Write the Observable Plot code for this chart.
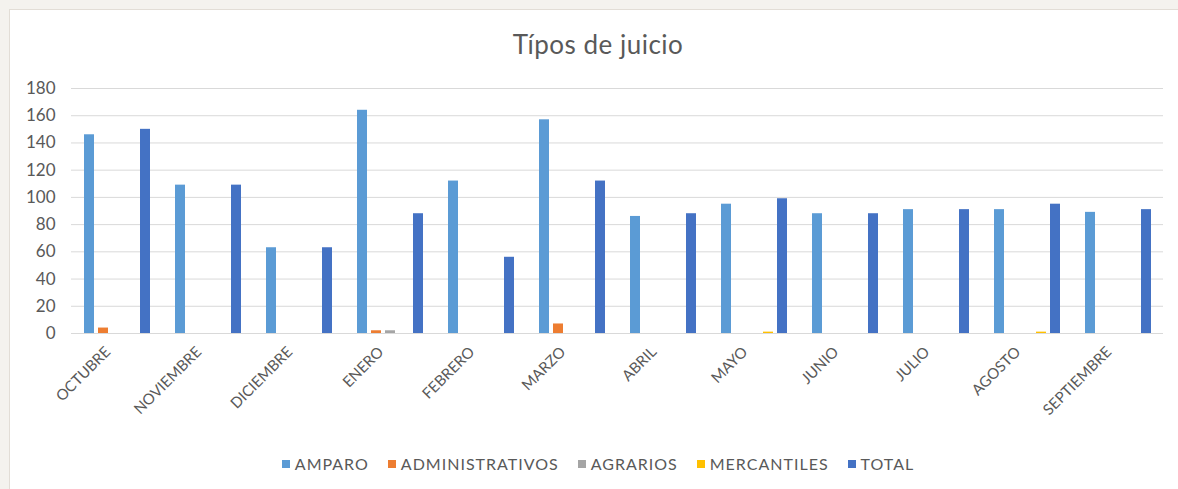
<!DOCTYPE html>
<html>
<head>
<meta charset="utf-8">
<script src="https://cdn.jsdelivr.net/npm/d3@7"></script>
<script src="https://cdn.jsdelivr.net/npm/@observablehq/plot@0.6"></script>
<style>
  html, body { margin: 0; padding: 0; background: #f4f2ee; }
  body { width: 1178px; height: 489px; overflow: hidden; position: relative; font-family: Lato, "Open Sans", sans-serif; }
  #card { position: absolute; left: 9px; top: 9px; width: 1168px; height: 479px; background: #fff; border-left: 1px solid #e2ddd6; border-top: 1px solid #e2ddd6; }
  #title { height: 66px; box-sizing: border-box; padding-top: 18px; padding-left: 8px; line-height: 32px; font-size: 26px; letter-spacing: 0.5px; color: #595959; text-align: center; }
  #legend { display: flex; justify-content: center; align-items: center; gap: 19px; font-size: 16px; letter-spacing: 1px; color: #595959; height: 16px; line-height: 16px; padding-left: 8px; }
  .item { display: flex; align-items: center; gap: 5px; }
  .sw { width: 8px; height: 8px; display: inline-block; }
</style>
</head>
<body>
<div id="card">
  <div id="title">Típos de juicio</div>
  <div id="chart"></div>
  <div id="legend"></div>
</div>
<script>
const months = ["OCTUBRE","NOVIEMBRE","DICIEMBRE","ENERO","FEBRERO","MARZO","ABRIL","MAYO","JUNIO","JULIO","AGOSTO","SEPTIEMBRE"];
const seriesNames = ["AMPARO","ADMINISTRATIVOS","AGRARIOS","MERCANTILES","TOTAL"];
const seriesColors = ["#5b9bd5","#ed7d31","#a5a5a5","#ffc000","#4472c4"];
const amparo          = [146,109,63,164,112,157,86,95,88,91,91,89];
const administrativos = [4,0,0,2,0,7,0,0,0,0,0,0];
const agrarios        = [0,0,0,2,0,0,0,0,0,0,0,0];
const mercantiles     = [0,0,0,0,0,0,0,1,0,0,1,0];
const total           = [150,109,63,88,56,112,88,99,88,91,95,91];
const yTicks = [0,20,40,60,80,100,120,140,160,180];

const seriesValues = [amparo, administrativos, agrarios, mercantiles, total];
const data = [];
months.forEach((m, i) => {
  seriesNames.forEach((s, j) => data.push({month: m, series: s, value: seriesValues[j][i]}));
});

const chart = Plot.plot({
  width: 1168,
  height: 380,
  marginLeft: 58,
  marginRight: 13,
  marginTop: 12,
  marginBottom: 123,
  style: {fontFamily: "Lato, 'Open Sans', sans-serif", color: "#595959", background: "transparent"},
  fx: {domain: months, padding: 0, axis: null, label: null},
  x: {domain: seriesNames, paddingInner: 0.29, paddingOuter: 0.88, axis: null},
  y: {domain: [0, 180], ticks: yTicks, label: null, axis: null},
  color: {domain: seriesNames, range: seriesColors},
  marks: [
    Plot.gridY(yTicks, {stroke: "#d9d9d9", strokeOpacity: 1, strokeWidth: 1}),
    Plot.barY(data, {fx: "month", x: "series", y: "value", fill: "series"}),
    Plot.axisY(yTicks, {tickSize: 0, tickPadding: 0, dx: -16, fontSize: 17, fill: "#595959", label: null}),
    Plot.axisFx({anchor: "bottom", tickRotate: -45, tickSize: 0, tickPadding: 16, dx: -9, fontSize: 15, fill: "#595959", label: null})
  ]
});
document.getElementById("chart").appendChild(chart);

const legend = document.getElementById("legend");
seriesNames.forEach((s, j) => {
  const it = document.createElement("div");
  it.className = "item";
  const sw = document.createElement("span");
  sw.className = "sw";
  sw.style.background = seriesColors[j];
  const t = document.createElement("span");
  t.textContent = s;
  it.appendChild(sw); it.appendChild(t);
  legend.appendChild(it);
});
</script>
</body>
</html>
